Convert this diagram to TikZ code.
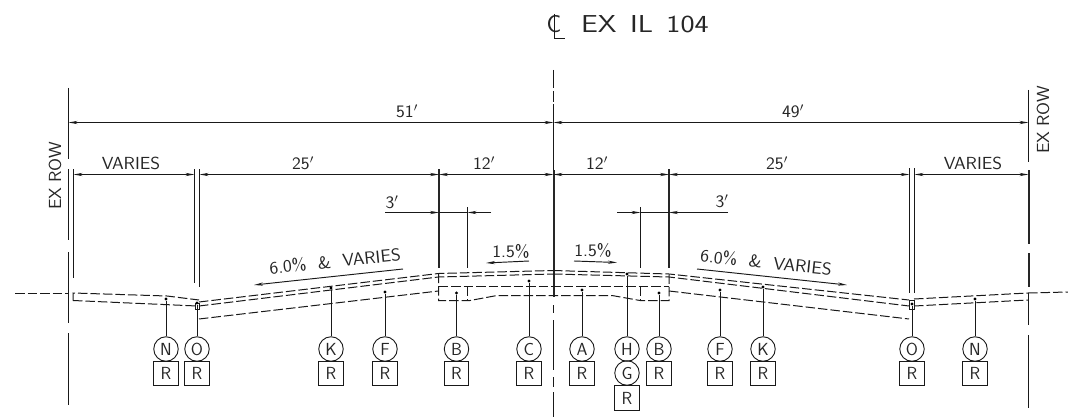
\documentclass[tikz,border=0pt]{standalone}
\usetikzlibrary{arrows.meta}
\tikzset{
  ln/.style={line width=0.95pt,black!90},
  thk/.style={line width=1.5pt,black!85},
  dim/.style={ln,{Stealth[length=9pt,width=3.2pt]}-{Stealth[length=9pt,width=3.2pt]}},
  oneway/.style={ln,-{Stealth[length=9pt,width=3.2pt]}},
  road/.style={line width=1pt,black!90,dash pattern=on 9.5pt off 3pt},
  lab/.style={inner sep=0pt,font=\sffamily\fontsize{17.5}{17.5}\selectfont,text=black!85},
  big/.style={inner sep=0pt,font=\sffamily\fontsize{24.5}{24.5}\selectfont,text=black!85},
  bub/.style={draw,black!90,line width=0.9pt,circle,minimum size=24.5pt,inner sep=0pt,font=\sffamily\fontsize{17.5}{17.5}\selectfont,text=black!85},
  tag/.style={draw,black!90,line width=0.9pt,rectangle,minimum size=24.5pt,inner sep=0pt,font=\sffamily\fontsize{17.5}{17.5}\selectfont,text=black!85},
  pin/.style={circle,fill=black,inner sep=0pt,minimum size=3.2pt}
}
\newcommand{\wider}[1]{\scalebox{1.07}[1]{#1}}
\begin{document}
\begin{tikzpicture}[x=1pt,y=-1pt]
\useasboundingbox (0,0) rectangle (1068,417);
% title
\node[big] (tc) at (554,24.5) {C};
\draw[ln] (554,14) -- (554,38) -- (565,38);
\node[big,anchor=west] (ttl) at (581,24.5) {\scalebox{1.22}[1]{EX\hspace{0.45em}IL\hspace{0.45em}104}};
% vertical lines
\draw[ln] (68.5,88)--(68.5,159) (68.5,169)--(68.5,240) (68.5,252)--(68.5,323) (68.5,333)--(68.5,405);
\draw[ln] (73.5,169)--(73.5,278);
\draw[ln] (194.5,169)--(194.5,283) (199.5,169)--(199.5,287);
\draw[thk] (439,169)--(439,268) (669,169)--(669,268);
\draw[ln] (467.5,207)--(467.5,268) (640.5,207)--(640.5,268);
\draw[ln] (553.5,70)--(553.5,88) (553.5,91)--(553.5,102) (553.5,104)--(553.5,170);
\draw[thk] (554,170)--(554,297);
\draw[ln] (553.5,305)--(553.5,313) (553.5,320)--(553.5,370) (553.5,377)--(553.5,387) (553.5,392)--(553.5,417);
\draw[ln] (1028.5,90)--(1028.5,162);
\draw[thk] (1029,170)--(1029,244) (1029,253)--(1029,287);
\draw[ln] (1028.5,293)--(1028.5,325) (1028.5,335)--(1028.5,408);
\draw[ln] (909.5,168)--(909.5,293) (914.5,168)--(914.5,293);
% dimension anchors
\coordinate (a0) at (68.5,122.5); \coordinate (a1) at (553.5,122.5); \coordinate (a2) at (1028.5,122.5);
\draw[dim] (a0)--(a1); \draw[dim] (a1)--(a2);
\coordinate (b0) at (73.5,174.5); \coordinate (b1) at (194.5,174.5); \coordinate (b2) at (199.5,174.5);
\coordinate (b3) at (439,174.5); \coordinate (b4) at (553.5,174.5); \coordinate (b5) at (669,174.5);
\coordinate (b6) at (909.5,174.5); \coordinate (b7) at (914.5,174.5); \coordinate (b8) at (1028.5,174.5);
\draw[dim] (b0)--(b1); \draw[dim] (b2)--(b3); \draw[dim] (b3)--(b4); \draw[dim] (b4)--(b5); \draw[dim] (b5)--(b6); \draw[dim] (b7)--(b8);
% 3' dims
\coordinate (c0) at (385,212.5); \coordinate (c1) at (439,212.5); \coordinate (c2) at (491,212.5); \coordinate (c3) at (467.5,212.5);
\draw[oneway] (c0)--(c1); \draw[oneway] (c2)--(c3); \draw[ln] (c1)--(c3);
\coordinate (d0) at (617,212.5); \coordinate (d1) at (640.5,212.5); \coordinate (d2) at (728,212.5); \coordinate (d3) at (669,212.5);
\draw[oneway] (d0)--(d1); \draw[oneway] (d2)--(d3); \draw[ln] (d1)--(d3);
% labels
\foreach \n/\x/\y/\t in {l1/407/111/51$'$,l2/793/111/49$'$,l3/131/163/VARIES,l4/303/163/25$'$,l5/484/163/12$'$,l6/597/163/12$'$,l7/777/163/25$'$,l8/973/163/VARIES,l9/392/202/3$'$,l10/722/201/3$'$}
  \node[lab] (\n) at (\x,\y) {\wider{\t}};
\node[lab,rotate=90] (r1) at (55,176) {\wider{EX\hspace{0.25em}ROW}};
\node[lab,rotate=90] (r2) at (1043,120) {\wider{EX\hspace{0.25em}ROW}};
% slope arrows
\coordinate (s1) at (403,269); \coordinate (s2) at (254,285);
\coordinate (s3) at (697,269); \coordinate (s4) at (847,285);
\coordinate (s5) at (529,261); \coordinate (s6) at (486,263);
\coordinate (s7) at (574,261); \coordinate (s8) at (617,262.5);
\draw[oneway] (s1)--(s2); \draw[oneway] (s3)--(s4); \draw[oneway] (s5)--(s6); \draw[oneway] (s7)--(s8);
\node[lab,rotate=5.8] (p1) at (335,261.5) {\wider{6.0\%\hspace{0.3em} \&\hspace{0.3em} VARIES}};
\node[lab,rotate=-6] (p2) at (766,262.5) {\wider{6.0\%\hspace{0.3em} \&\hspace{0.3em} VARIES}};
\node[lab] (p3) at (511,251) {\wider{1.5\%}};
\node[lab] (p4) at (593,250) {\wider{1.5\%}};
% roadway
\draw[road] (15,293)--(68,293);
\draw[road] (1028,293)--(1068,292);
\draw[road] (73,300.5)--(73,293)--(167,296)--(199,300);
\draw[road] (73,300.5)--(197,306);
\draw[ln] (195,303) rectangle (199,309);
\draw[road] (199,302)--(438.5,273.5)--(553,270.5);
\draw[road] (199,306)--(438.5,277)--(553,274);
\draw[road] (199,319)--(438.5,291);
\draw[road] (438.5,286.5)--(669,286.5);
\draw[road] (438.5,273.5)--(438.5,300.5)--(470,300.5)--(497,295.5)--(612,295.5)--(640,300.5)--(669,300.5)--(669,274);
\draw[road] (467.5,286.5)--(467.5,300.5) (640.5,286.5)--(640.5,300.5);
\draw[road] (553,270.5)--(669,274)--(909,300);
\draw[road] (553,274)--(669,277)--(909,306);
\draw[road] (669,291)--(909,319);
\draw[ln] (909,300) rectangle (914,309);
\draw[road] (914,299)--(1028,293);
\draw[road] (914,306)--(1028,300);
% bubbles
\foreach \n/\x/\py/\t in {n1/166/299/N,o1/197/303/O,k1/331/288/K,f1/385/292/F,b1/456.5/293/B,c1/529/281/C,a1/582/290/A,h1/627/274/H,bb/659/293/B,f2/720/290/F,k2/763/287/K,o2/912/304/O,n2/975/299/N}{
  \node[pin] (pin\n) at (\x,\py) {};
  \node[bub] (bub\n) at (\x,349) {\t};
  \draw[ln] (pin\n)--(bub\n);
}
\foreach \n/\x in {n1/166,o1/197,k1/331,f1/385,b1/456.5,c1/529,a1/582,bb/659,f2/720,k2/763,o2/912,n2/975}
  \node[tag] (tag\n) at (\x,373.5) {R};
\node[bub] (gg) at (627,373) {G};
\node[tag] (tagg) at (627,398) {R};
\end{tikzpicture}
\end{document}
